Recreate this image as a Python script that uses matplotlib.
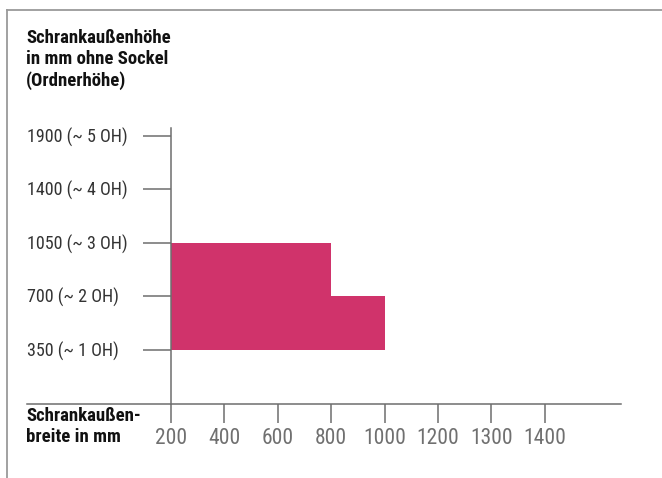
import matplotlib.pyplot as plt
from matplotlib.lines import Line2D
import matplotlib.transforms as mtransforms

# ========================== Data ==========================
widths = [200, 400, 600, 800, 1000, 1200, 1300, 1400]          # Schrankaußenbreite in mm
heights = [350, 700, 1050, 1400, 1900]                          # Schrankaußenhöhe in mm
height_labels = ["350 (~ 1 OH)", "700 (~ 2 OH)", "1050 (~ 3 OH)",
                 "1400 (~ 4 OH)", "1900 (~ 5 OH)"]

# available range: max. height per width step
range_widths = [200, 400, 600, 800, 1000]
range_max_height = [1050, 1050, 1050, 700, 700]

# ========================== Style ==========================
W, H = 662, 478
font = ["Roboto Condensed", "DejaVu Sans"]
magenta = "#d0336b"
axis_grey = "#6e6e6e"

fig = plt.figure(figsize=(W / 100, H / 100), dpi=100)

# axes placed in pixels: x axis runs 27..621 px, y axis 128..404 px
ax = fig.add_axes([27 / W, (H - 404) / H, (621 - 27) / W, (404 - 128) / H])

step = 53.4
ax.set_xlim(-(171 - 27) / step, (621 - 171) / step)
ax.set_ylim(-(404 - 349.5) / step, (349.5 - 128) / step)

# categorical positions
xi = [widths.index(w) for w in range_widths]
yi = [heights.index(h) for h in range_max_height]
ax.fill_between(xi, 0, yi, step="post", color=magenta, linewidth=0)

# ---- axes ----
for s in ["top", "right"]:
    ax.spines[s].set_visible(False)
ax.spines["left"].set_position(("data", 0))
for s in ["left", "bottom"]:
    ax.spines[s].set_color(axis_grey)
    ax.spines[s].set_linewidth(1.1)
    ax.spines[s].set_zorder(3)

ax.set_xticks(range(len(widths)))
ax.set_xticklabels([str(w) for w in widths], family=font, fontsize=15.5, color="#707070")
ax.tick_params(axis="x", direction="out", length=13.5, width=1.1, color=axis_grey, pad=4)

ax.set_yticks(range(len(heights)))
ax.set_yticklabels([])
ax.tick_params(axis="y", direction="out", length=20, width=1.1, color=axis_grey)

# left-aligned height labels at the left edge of the axes
trans = mtransforms.blended_transform_factory(ax.transAxes, ax.transData)
for i, lab in enumerate(height_labels):
    ax.text(0, i - 0.03, lab, transform=trans, ha="left", va="center",
            family=font, fontsize=13, color="#333333")

# ---- axis titles ----
fig.text(26 / W, 1 - 29 / H, "Schrankaußenhöhe\nin mm ohne Sockel\n(Ordnerhöhe)",
         ha="left", va="top", family=font, fontsize=13.5, fontweight="bold",
         color="#111111", linespacing=1.22)
fig.text(26 / W, 1 - 407 / H, "Schrankaußen-\nbreite in mm",
         ha="left", va="top", family=font, fontsize=13.5, fontweight="bold",
         color="#111111", linespacing=1.2)

# ---- frame lines (top and left) ----
frame = "#9a9a9a"
fig.add_artist(Line2D([7 / W, 1], [1 - 10 / H, 1 - 10 / H], color=frame, lw=1.3))
fig.add_artist(Line2D([7 / W, 7 / W], [0, 1 - 10 / H], color=frame, lw=1.3))

plt.savefig("out.png", dpi=100)
